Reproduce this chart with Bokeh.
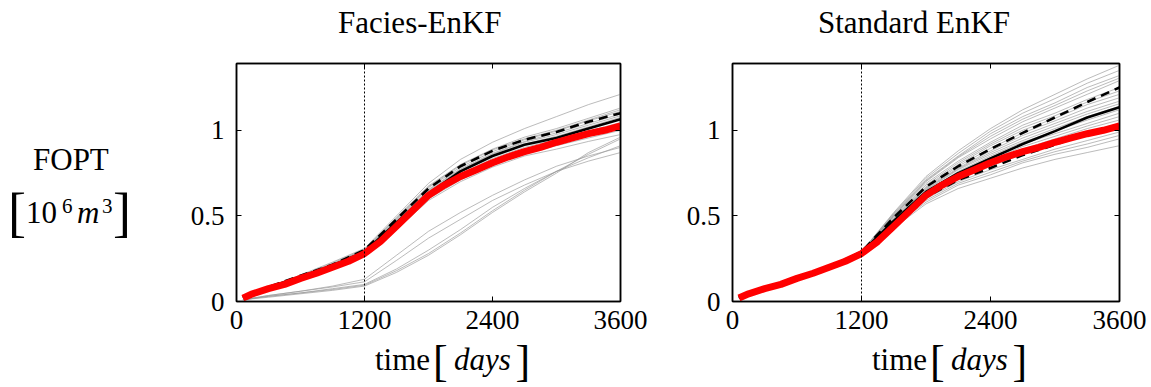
from bokeh.plotting import figure
from bokeh.models import Range1d, FixedTicker, LinearAxis, Span, Div
from bokeh.layouts import row, column
from bokeh.embed import file_html
from bokeh.resources import INLINE

FONT = "Liberation Serif"

# ---------------- data ----------------
x_ticks = [0, 1200, 2400, 3600]
y_ticks = [0, 0.5, 1]
y_tick_labels = {0: "0", 0.5: "0.5", 1: "1"}
titles = ["Facies-EnKF", "Standard EnKF"]
assim_end = 1200

# true (reference) production, red
t_true = [60, 150, 300, 450, 600, 750, 900, 1050, 1200, 1350, 1500, 1650, 1800,
          1950, 2100, 2250, 2400, 2550, 2700, 2850, 3000, 3150, 3300, 3450, 3600]
fopt_true = [0.02, 0.045, 0.075, 0.10, 0.135, 0.165, 0.20, 0.235, 0.28, 0.35, 0.44, 0.53, 0.62,
             0.68, 0.73, 0.77, 0.81, 0.845, 0.875, 0.90, 0.93, 0.955, 0.98, 1.0, 1.025]

# ensemble time grid
t_ens = [60, 300, 600, 900, 1200, 1500, 1800, 2100, 2400, 2700, 3000, 3300, 3600]

# Facies-EnKF
facies_mean = [0.025, 0.082, 0.145, 0.21, 0.29, 0.46, 0.63, 0.76, 0.85, 0.915, 0.955, 1.01, 1.065]
facies_upper = [0.025, 0.085, 0.15, 0.215, 0.30, 0.48, 0.66, 0.79, 0.88, 0.945, 0.99, 1.05, 1.10]
facies_members = [
    [0.025, 0.085, 0.155, 0.23, 0.31, 0.50, 0.69, 0.83, 0.93, 1.01, 1.08, 1.15, 1.21],
    [0.025, 0.085, 0.15, 0.225, 0.305, 0.49, 0.675, 0.80, 0.89, 0.96, 1.01, 1.07, 1.13],
    [0.025, 0.084, 0.148, 0.22, 0.302, 0.485, 0.67, 0.795, 0.885, 0.95, 1.0, 1.06, 1.12],
    [0.025, 0.082, 0.145, 0.218, 0.30, 0.48, 0.665, 0.785, 0.875, 0.945, 0.995, 1.055, 1.11],
    [0.024, 0.081, 0.144, 0.215, 0.297, 0.475, 0.655, 0.775, 0.865, 0.935, 0.985, 1.04, 1.095],
    [0.024, 0.08, 0.142, 0.213, 0.295, 0.47, 0.65, 0.77, 0.86, 0.93, 0.975, 1.03, 1.085],
    [0.024, 0.079, 0.141, 0.212, 0.292, 0.465, 0.645, 0.765, 0.855, 0.92, 0.965, 1.02, 1.075],
    [0.024, 0.078, 0.14, 0.21, 0.29, 0.46, 0.64, 0.76, 0.85, 0.915, 0.96, 1.015, 1.065],
    [0.023, 0.077, 0.138, 0.205, 0.285, 0.45, 0.63, 0.745, 0.835, 0.90, 0.945, 0.995, 1.045],
    [0.023, 0.075, 0.135, 0.20, 0.28, 0.44, 0.62, 0.73, 0.82, 0.885, 0.93, 0.98, 1.025],
    [0.022, 0.073, 0.13, 0.195, 0.27, 0.43, 0.60, 0.71, 0.80, 0.865, 0.91, 0.955, 1.0],
    [0.022, 0.07, 0.125, 0.19, 0.265, 0.42, 0.59, 0.70, 0.785, 0.85, 0.89, 0.935, 0.975],
    [0.01, 0.035, 0.06, 0.085, 0.115, 0.24, 0.37, 0.48, 0.59, 0.68, 0.76, 0.82, 0.87],
    [0.01, 0.03, 0.05, 0.075, 0.10, 0.19, 0.30, 0.42, 0.55, 0.66, 0.76, 0.84, 0.91],
    [0.01, 0.03, 0.05, 0.07, 0.095, 0.18, 0.28, 0.40, 0.53, 0.65, 0.76, 0.86, 0.95],
    [0.01, 0.025, 0.045, 0.065, 0.09, 0.17, 0.27, 0.39, 0.52, 0.64, 0.75, 0.87, 0.96],
    [0.01, 0.035, 0.06, 0.09, 0.13, 0.27, 0.41, 0.52, 0.62, 0.71, 0.79, 0.85, 0.90],
]

# Standard EnKF
std_mean = [0.023, 0.075, 0.135, 0.20, 0.285, 0.47, 0.64, 0.75, 0.835, 0.92, 0.995, 1.075, 1.135]
std_upper = [0.023, 0.076, 0.137, 0.203, 0.29, 0.49, 0.67, 0.79, 0.89, 0.985, 1.075, 1.165, 1.25]
std_lower = [0.022, 0.074, 0.133, 0.197, 0.28, 0.45, 0.61, 0.71, 0.78, 0.855, 0.915, 0.985, 1.02]
std_members = [
    [0.022, 0.074, 0.133, 0.198, 0.281, 0.43, 0.57, 0.66, 0.72, 0.78, 0.83, 0.87, 0.91],
    [0.022, 0.075, 0.134, 0.199, 0.282, 0.44, 0.58, 0.68, 0.74, 0.81, 0.86, 0.90, 0.95],
    [0.022, 0.074, 0.134, 0.199, 0.282, 0.445, 0.59, 0.69, 0.755, 0.82, 0.875, 0.92, 0.97],
    [0.023, 0.074, 0.135, 0.20, 0.282, 0.44, 0.60, 0.70, 0.77, 0.83, 0.89, 0.94, 0.99],
    [0.022, 0.075, 0.134, 0.20, 0.283, 0.45, 0.61, 0.71, 0.79, 0.86, 0.92, 0.97, 1.02],
    [0.023, 0.075, 0.135, 0.20, 0.283, 0.455, 0.615, 0.72, 0.80, 0.875, 0.935, 0.99, 1.04],
    [0.023, 0.075, 0.135, 0.201, 0.284, 0.46, 0.62, 0.73, 0.81, 0.89, 0.95, 1.01, 1.06],
    [0.023, 0.075, 0.135, 0.201, 0.284, 0.465, 0.625, 0.74, 0.825, 0.905, 0.965, 1.025, 1.08],
    [0.023, 0.076, 0.136, 0.20, 0.284, 0.47, 0.63, 0.75, 0.84, 0.92, 0.98, 1.04, 1.10],
    [0.023, 0.076, 0.136, 0.202, 0.285, 0.47, 0.64, 0.76, 0.85, 0.93, 0.995, 1.06, 1.12],
    [0.023, 0.075, 0.135, 0.202, 0.285, 0.47, 0.65, 0.77, 0.86, 0.94, 1.01, 1.08, 1.14],
    [0.023, 0.076, 0.136, 0.202, 0.286, 0.475, 0.655, 0.775, 0.87, 0.955, 1.025, 1.095, 1.155],
    [0.023, 0.076, 0.136, 0.201, 0.286, 0.48, 0.66, 0.78, 0.88, 0.97, 1.04, 1.11, 1.17],
    [0.024, 0.076, 0.137, 0.203, 0.287, 0.485, 0.665, 0.79, 0.895, 0.985, 1.055, 1.13, 1.19],
    [0.024, 0.076, 0.137, 0.203, 0.287, 0.49, 0.67, 0.80, 0.91, 1.00, 1.07, 1.15, 1.21],
    [0.024, 0.077, 0.137, 0.203, 0.288, 0.495, 0.68, 0.81, 0.92, 1.015, 1.085, 1.165, 1.23],
    [0.024, 0.077, 0.137, 0.203, 0.288, 0.50, 0.69, 0.82, 0.93, 1.03, 1.10, 1.18, 1.25],
    [0.024, 0.077, 0.138, 0.204, 0.289, 0.50, 0.70, 0.84, 0.95, 1.05, 1.13, 1.21, 1.29],
    [0.024, 0.078, 0.138, 0.204, 0.289, 0.505, 0.705, 0.845, 0.965, 1.065, 1.145, 1.23, 1.305],
    [0.024, 0.078, 0.138, 0.205, 0.29, 0.51, 0.71, 0.85, 0.98, 1.08, 1.16, 1.25, 1.32],
    [0.025, 0.078, 0.139, 0.205, 0.29, 0.515, 0.72, 0.865, 0.995, 1.10, 1.185, 1.275, 1.35],
    [0.025, 0.078, 0.139, 0.206, 0.291, 0.52, 0.73, 0.88, 1.01, 1.12, 1.21, 1.30, 1.38],
]

Y_MAX = 1.39


def make_panel(width, border_left, border_right):
    p = figure(width=width, height=290, x_range=Range1d(0, 3600), y_range=Range1d(0, Y_MAX),
               output_backend="svg", toolbar_location=None,
               min_border_left=border_left, min_border_right=border_right,
               min_border_top=13, min_border_bottom=39)
    p.grid.visible = False
    p.outline_line_color = "black"
    p.outline_line_width = 1.5

    p.xaxis.ticker = FixedTicker(ticks=x_ticks)
    p.yaxis.ticker = FixedTicker(ticks=y_ticks)
    p.yaxis.major_label_overrides = y_tick_labels
    for ax in [p.xaxis[0], p.yaxis[0]]:
        ax.major_label_text_font = FONT
        ax.major_label_text_font_size = "27px"
        ax.major_label_text_color = "black"
    p.xaxis.major_label_standoff = 9
    p.yaxis.major_label_standoff = 12

    top = LinearAxis(ticker=FixedTicker(ticks=x_ticks), major_label_text_color=None,
                     major_label_text_font_size="2px", major_label_standoff=0)
    right = LinearAxis(ticker=FixedTicker(ticks=y_ticks), major_label_text_color=None,
                       major_label_text_font_size="2px", major_label_standoff=0)
    p.add_layout(top, "above")
    p.add_layout(right, "right")
    for ax in p.axis:
        ax.axis_line_color = "black"
        ax.axis_line_width = 1.5
        ax.major_tick_in = 5
        ax.major_tick_out = 0
        ax.major_tick_line_color = "black"
        ax.major_tick_line_width = 1
        ax.minor_tick_line_color = None
    return p


def draw(p, members, upper, mean, lower):
    for m in members:
        p.line(t_ens, m, line_color="#9a9a9a", line_width=0.9, line_alpha=0.75)
    p.add_layout(Span(location=assim_end, dimension="height", line_color="black",
                      line_width=1, line_dash="2 2"))
    if lower is not None:
        p.line(t_ens, lower, line_color="black", line_width=2.6, line_dash="9 6")
    p.line(t_ens, upper, line_color="black", line_width=2.6, line_dash="9 6")
    p.line(t_ens, mean, line_color="black", line_width=2.6)
    p.line(t_true, fopt_true, line_color="#ff0000", line_width=7)


def span(left, baseline, text, size, italic=False):
    top = baseline - 0.8375 * size
    style = "italic" if italic else "normal"
    return (f'<span style="position:absolute;left:{left}px;top:{top:.1f}px;'
            f'font-family:\'{FONT}\';font-size:{size}px;line-height:{size}px;'
            f'font-style:{style};color:black;white-space:nowrap">{text}</span>')


def box(w, h, parts):
    return (f'<div style="position:relative;width:{w}px;height:{h}px;overflow:visible">'
            + "".join(parts) + "</div>")


# y label block (FOPT [10^6 m^3])
ylabel = Div(width=160, height=387, margin=0, text=box(160, 387, [
    span(33, 170, "FOPT", 31),
    span(8, 231, "[", 54),
    span(26, 223, "10", 31),
    span(62, 214, "6", 21),
    span(77, 223, "m", 31, italic=True),
    span(102, 214, "3", 21),
    span(113, 231, "]", 54),
]))


def title_div(width, x0, text):
    return Div(width=width, height=50, margin=0, text=box(width, 50, [span(x0, 33, text, 31)]))


def xlabel(width, x0):
    return Div(width=width, height=47, margin=0, text=box(width, 47, [
        span(x0, 30, "time", 31),
        span(x0 + 58, 37, "[", 44),
        span(x0 + 79, 30, "days", 31, italic=True),
        span(x0 + 140.5, 37, "]", 44),
    ]))


p1 = make_panel(520, 76, 60)
draw(p1, facies_members, facies_upper, facies_mean, None)
p2 = make_panel(471, 52, 32)
draw(p2, std_members, std_upper, std_mean, std_lower)

layout = row(ylabel,
             column(title_div(520, 178, titles[0]), p1, xlabel(520, 215)),
             column(title_div(471, 138, titles[1]), p2, xlabel(471, 192)))
open("out.html", "w").write(file_html(layout, INLINE))
